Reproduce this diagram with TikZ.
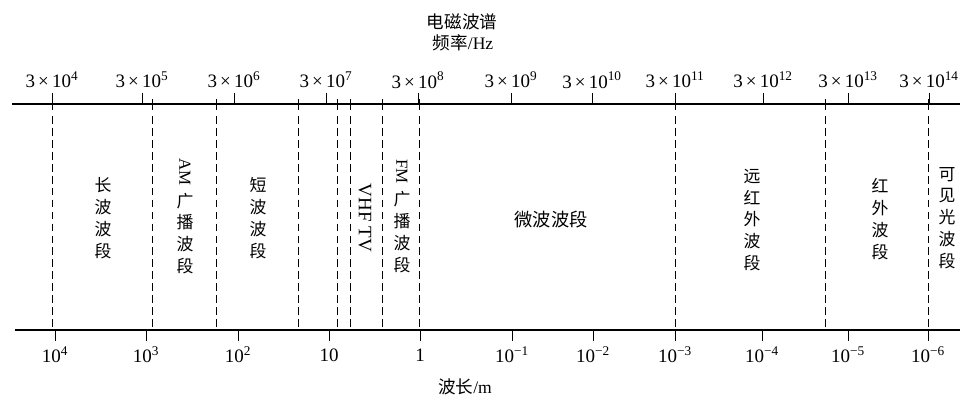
\documentclass[tikz,border=0pt]{standalone}
\usepackage{fontspec}
\usepackage{graphicx}
\setmainfont{Liberation Serif}
\newfontfamily\cjk{Noto Sans CJK SC}
\newcommand{\fq}[1]{3\,×\,10\textsuperscript{#1}}
\newcommand{\wl}[1]{10\textsuperscript{#1}}
\newcommand{\sideways}[1]{\raisebox{\depth}{\rotatebox{-90}{\fontspec{Liberation Serif}#1}}}

\begin{document}
\begin{tikzpicture}[x=0.025cm,y=-0.025cm,line width=0.5pt,
  num/.style={font=\fontsize{13.5}{15}\selectfont},
  band/.style={font=\cjk\fontsize{12}{15.5}\selectfont,align=center,inner sep=0pt},
  bound/.style={dash pattern=on 5.5pt off 3pt}]
\useasboundingbox (0,0) rectangle (965,397);
\node[font=\cjk\fontsize{12.5}{14}\selectfont] (title) at (462,22) {电磁波谱};
\node[font=\fontsize{12.5}{14}\selectfont] (freq) at (463,43) {{\cjk 频率}/Hz};
\node[font=\fontsize{12.5}{14}\selectfont] (wave) at (465,387) {{\cjk 波长}/m};
\coordinate (t0) at (12,104); \coordinate (t1) at (960,104);
\coordinate (b0) at (15,330); \coordinate (b1) at (960,330);
\draw[line width=1.1pt] (t0) -- (t1);
\draw[line width=1.1pt] (b0) -- (b1);
\foreach \x/\e [count=\i] in {52/4,142/5,234/6,326/7,418/8,511/9,592/10,675/11,763/12,848/13,929/14}
  {\draw (\x,104) -- (\x,93);
   \node[num] (f\i) at (\x,80) {\fq{\e}};}
\foreach \x/\t [count=\i] in {55/{\wl{4}},146/{\wl{3}},238/{\wl{2}},329/{10},420/{1},512/{\wl{−1}},593/{\wl{−2}},675/{\wl{−3}},762/{\wl{−4}},848/{\wl{−5}},928/{\wl{−6}}}
  {\draw (\x,330) -- (\x,341);
   \node[num] (w\i) at (\x,355) {\t};}
\foreach \x in {52,152,216,298,337,350,382,419,675,825,928}
  {\draw (\x,99) -- (\x,110);
   \draw[bound] (\x,116) -- (\x,330);}
\node[band] (lw) at (103,218) {长\\波\\波\\段};
\node[band] (am) at (185,216) {\sideways{AM}\\广\\播\\波\\段};
\node[band] (sw) at (258,218) {短\\波\\波\\段};
\node[num,rotate=-90] (vhf) at (365,218) {VHF TV};
\node[band] (fm) at (402,216) {\sideways{FM}\\广\\播\\波\\段};
\node[band,font=\cjk\fontsize{13}{15}\selectfont] (mw) at (551,220) {微波波段};
\node[band] (fir) at (752,220) {远\\红\\外\\波\\段};
\node[band] (ir) at (880,219) {红\\外\\波\\段};
\node[band] (vis) at (947,218) {可\\见\\光\\波\\段};
\end{tikzpicture}
\end{document}
